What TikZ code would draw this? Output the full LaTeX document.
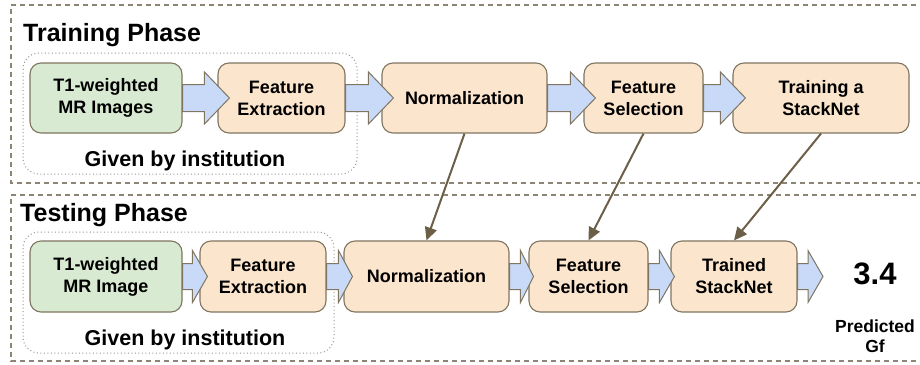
\documentclass[tikz,border=0pt]{standalone}
\usepackage{fontspec}
\setmainfont{Liberation Sans}
\usetikzlibrary{calc,arrows.meta}
\definecolor{boxgreen}{HTML}{D9EAD3}
\definecolor{boxorange}{HTML}{FCE5CD}
\definecolor{arrowblue}{HTML}{C9DAF8}
\definecolor{edgegray}{HTML}{7F7560}
\definecolor{linkbrown}{HTML}{6B5F48}
\definecolor{frame}{HTML}{8C8474}
\definecolor{dotframe}{HTML}{9A9488}
\tikzset{
  stagebox/.style={draw=edgegray, line width=1.1pt, rounded corners=11pt, align=center,
    font=\fontsize{18}{22}\selectfont\bfseries, inner sep=0pt},
  greenbox/.style={stagebox, fill=boxgreen},
  orangebox/.style={stagebox, fill=boxorange},
  barrowstyle/.style={draw=edgegray, line width=1pt, fill=arrowblue, line join=miter},
  linkarrow/.style={draw=linkbrown, line width=2pt, -{Triangle[length=13pt,width=12pt]}},
  phaseframe/.style={draw=frame, line width=1.2pt, dash pattern=on 5pt off 4pt},
  givenframe/.style={draw=dotframe, line width=1pt, dash pattern=on 1pt off 2.5pt, rounded corners=16pt},
  titletext/.style={font=\fontsize{25}{28}\selectfont\bfseries, anchor=base west, inner sep=0pt},
  giventext/.style={font=\fontsize{21.5}{24}\selectfont\bfseries, anchor=base, inner sep=0pt},
}
\newcommand\barrow[5]{%
  \draw[barrowstyle] let \p1=(#1.east), \p2=(#2) in
    (\x1,\y1+#5) -- (\x2+#3-#4,\y1+#5) -- (\x2+#3-#4,\y1+26pt) -- (\x2+#3,\y1)
    -- (\x2+#3-#4,\y1-26pt) -- (\x2+#3-#4,\y1-#5) -- (\x1,\y1-#5) -- cycle;}
\begin{document}
\begin{tikzpicture}[x=1pt,y=-1pt]
\useasboundingbox (0,0) rectangle (920,364);
% phase frames
\draw[phaseframe] (925,5) -- (11,5) -- (11,183) -- (925,183);
\draw[phaseframe] (925,195) -- (11,195) -- (11,361) -- (925,361);
% given-by frames
\draw[givenframe] (23,53) rectangle (357,174);
\draw[givenframe] (23,232) rectangle (334,353);
% titles
\node[titletext] (ttrain) at (23,41) {Training Phase};
\node[titletext] (ttest) at (20,221) {Testing Phase};
\node[giventext] (gtrain) at (185,166) {Given by institution};
\node[giventext] (gtest) at (185,345) {Given by institution};
% training boxes
\node[greenbox, minimum width=152pt, minimum height=70pt] (a1) at (106,98) {T1-weighted\\MR Images};
\node[orangebox, minimum width=127pt, minimum height=70pt] (a2) at (281.5,98) {Feature\\Extraction};
\node[orangebox, minimum width=165pt, minimum height=70pt] (a3) at (464.5,98) {Normalization};
\node[orangebox, minimum width=119pt, minimum height=70pt] (a4) at (643.5,98) {Feature\\Selection};
\node[orangebox, minimum width=176pt, minimum height=70pt] (a5) at (821,98) {Training a\\StackNet};
% testing boxes
\node[greenbox, minimum width=152pt, minimum height=71pt] (b1) at (106,276.5) {T1-weighted\\MR Image};
\node[orangebox, minimum width=126pt, minimum height=71pt] (b2) at (263,276.5) {Feature\\Extraction};
\node[orangebox, minimum width=165pt, minimum height=71pt] (b3) at (426.5,276.5) {Normalization};
\node[orangebox, minimum width=119pt, minimum height=71pt] (b4) at (588.5,276.5) {Feature\\Selection};
\node[orangebox, minimum width=126pt, minimum height=71pt] (b5) at (734,276.5) {Trained\\StackNet};
\coordinate (bout) at (823,276.5);
% result
\node[font=\fontsize{31}{34}\selectfont\bfseries, anchor=base, inner sep=0pt] (res) at (875,284) {3.4};
\node[font=\fontsize{17.5}{20}\selectfont\bfseries, anchor=base, inner sep=0pt] (pred) at (875,332) {Predicted};
\node[font=\fontsize{17.5}{20}\selectfont\bfseries, anchor=base, inner sep=0pt] (gf) at (875,352) {Gf};
% block arrows training
\barrow{a1}{a2.west}{12pt}{25pt}{13.5pt}
\barrow{a2}{a3.west}{12pt}{25pt}{13.5pt}
\barrow{a3}{a4.west}{12pt}{25pt}{13.5pt}
\barrow{a4}{a5.west}{13pt}{25pt}{13.5pt}
% block arrows testing
\barrow{b1}{b2.west}{8pt}{15pt}{13pt}
\barrow{b2}{b3.west}{9pt}{14pt}{13pt}
\barrow{b3}{b4.west}{5pt}{13pt}{13pt}
\barrow{b4}{b5.west}{4pt}{15pt}{13pt}
\barrow{b5}{bout}{0pt}{15pt}{13pt}
% links
\draw[linkarrow] (a3.south) -- (b3.north);
\draw[linkarrow] (a4.south) -- (b4.north);
\draw[linkarrow] (a5.south) -- (b5.north);
\end{tikzpicture}
\end{document}
